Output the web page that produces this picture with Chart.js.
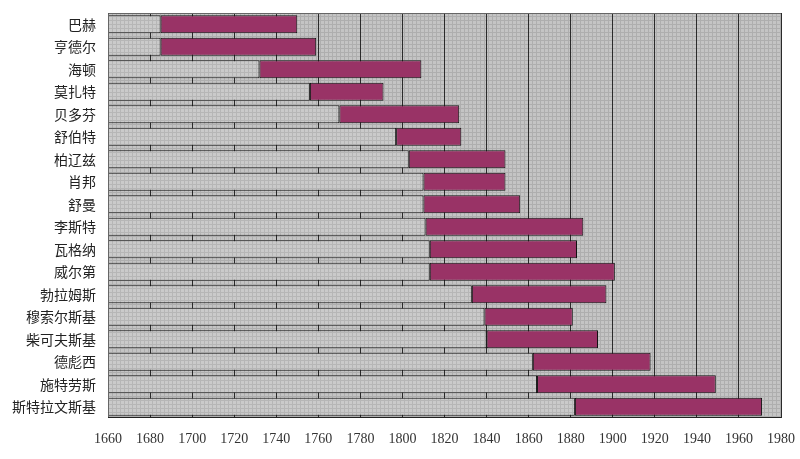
<!DOCTYPE html>
<html><head><meta charset="utf-8">
<script src="https://cdn.jsdelivr.net/npm/chart.js@4.4.1/dist/chart.umd.min.js"></script>
<style>html,body{margin:0;padding:0;background:#fff;}#wrap{width:800px;height:459px;}</style>
</head><body><div id="wrap"><canvas id="c" width="800" height="459"></canvas></div>
<script>
const composers = ['巴赫','亨德尔','海顿','莫扎特','贝多芬','舒伯特','柏辽兹','肖邦','舒曼','李斯特','瓦格纳','威尔第','勃拉姆斯','穆索尔斯基','柴可夫斯基','德彪西','施特劳斯','斯特拉文斯基'];
const births = [1685,1685,1732,1756,1770,1797,1803,1810,1810,1811,1813,1813,1833,1839,1840,1862,1864,1882];
const deaths = [1750,1759,1809,1791,1827,1828,1849,1849,1856,1886,1883,1901,1897,1881,1893,1918,1949,1971];
const axisStart = 1660, axisEnd = 1980, axisStep = 20;

function makePattern(base, dark){
  const p = document.createElement('canvas'); p.width = 4; p.height = 4;
  const g = p.getContext('2d');
  g.fillStyle = base; g.fillRect(0,0,4,4);
  g.fillStyle = dark; g.fillRect(0,0,4,1); g.fillRect(0,0,1,4);
  return document.getElementById('c').getContext('2d').createPattern(p,'repeat');
}
const bgPat = makePattern('#c4c4c4','#aeaeae');
const barPat = makePattern('#cacaca','#b6b6b6');

const bgPlugin = {
  id:'bg',
  beforeDraw(chart){
    const {ctx, chartArea:a} = chart;
    ctx.save(); ctx.fillStyle = bgPat; ctx.fillRect(a.left,a.top,a.right-a.left,a.bottom-a.top); ctx.restore();
  },
  afterDraw(chart){
    const {ctx, chartArea:a} = chart;
    ctx.save(); ctx.strokeStyle = '#666'; ctx.lineWidth = 1;
    ctx.beginPath(); ctx.moveTo(a.left+0.5,a.bottom); ctx.lineTo(a.left+0.5,a.top+0.5); ctx.lineTo(a.right,a.top+0.5); ctx.stroke();
    ctx.strokeStyle = '#222'; ctx.beginPath(); ctx.moveTo(a.left,a.bottom-0.5); ctx.lineTo(a.right,a.bottom-0.5); ctx.stroke();
    ctx.restore();
  }
};

new Chart(document.getElementById('c'), {
  type:'bar',
  data:{
    labels: composers,
    datasets:[
      {data: births.map(b=>[axisStart,b]), backgroundColor: barPat, borderColor:'#151515', borderWidth:1, borderSkipped:false, grouped:false, barPercentage:0.8, categoryPercentage:1, order:2},
      {data: births.map((b,i)=>[b,deaths[i]]), backgroundColor:'#993366', borderColor:'#111111', borderWidth:1, borderSkipped:false, grouped:false, barPercentage:0.8, categoryPercentage:1, order:1}
    ]
  },
  options:{
    indexAxis:'y', responsive:false, animation:false,
    layout:{padding:{top:13,right:19,left:0,bottom:0}},
    plugins:{legend:{display:false}, tooltip:{enabled:false}},
    scales:{
      x:{min:axisStart, max:axisEnd,
        afterBuildTicks(s){ const t=[]; for(let v=axisStart; v<=axisEnd; v+=axisStep) t.push({value:v}); s.ticks=t; },
        afterFit(s){ s.height = 41; s.paddingLeft = 0; s.paddingRight = 0; },
        grid:{color:'#2a2a2a', lineWidth:1, drawTicks:false},
        border:{display:false},
        ticks:{padding:13, color:'#333', font:{family:'"Liberation Serif", "DejaVu Serif", serif', size:14}, maxRotation:0, autoSkip:false, callback:v=>String(v)}
      },
      y:{
        afterFit(s){ s.width = 108; s.paddingTop = 0; s.paddingBottom = 0; },
        grid:{display:false, drawTicks:false},
        border:{display:false},
        ticks:{padding:12, color:'#222', font:{family:'"Noto Sans CJK SC", sans-serif', size:14}}
      }
    }
  },
  plugins:[bgPlugin]
});
</script></body></html>
